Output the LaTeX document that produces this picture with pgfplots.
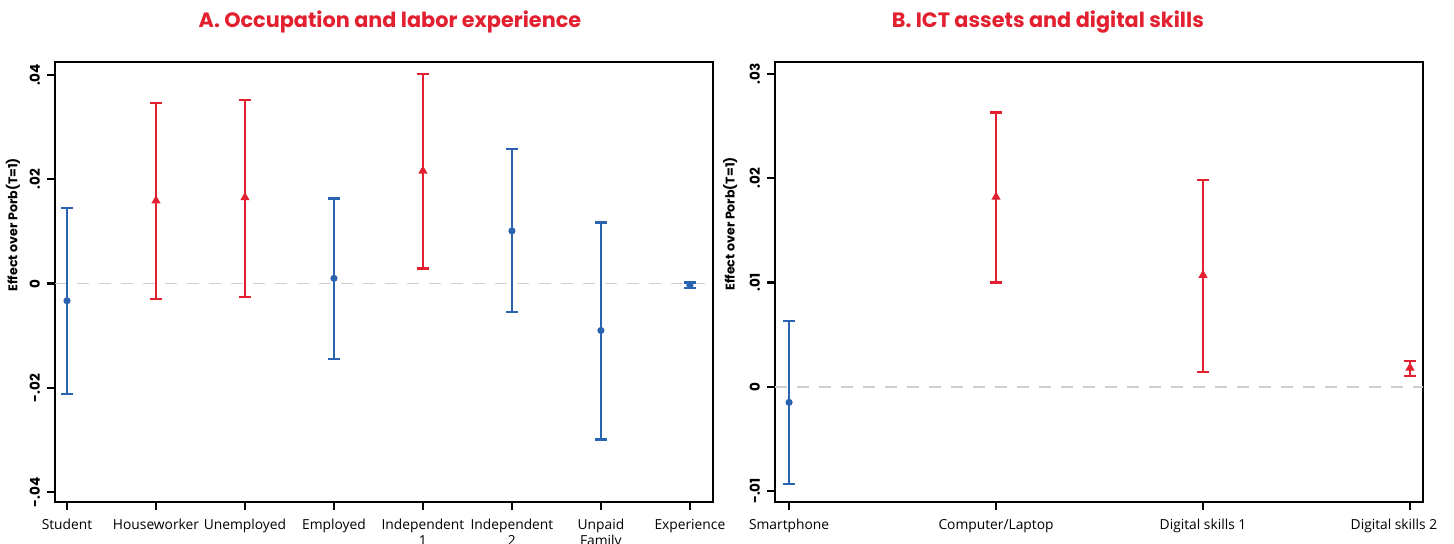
\documentclass[border=0pt]{standalone}
\usepackage{pgfplots}
\pgfplotsset{compat=1.18}
\usepackage{pgfplotstable}
\usepackage{fontspec}
\setmainfont{Open Sans}
\newfontfamily\pop{Poppins}
\definecolor{myred}{HTML}{E2202F}
\definecolor{myblue}{HTML}{2A64B0}
\definecolor{zgray}{HTML}{D0D0D0}

% x y eplus eminus
\pgfplotstableread{
x y ep em
0 -0.0033 0.0178 0.0179
3 0.0010 0.0153 0.0155
5 0.0101 0.0157 0.0156
6 -0.0090 0.0207 0.0209
7 -0.0003 0.0005 0.0005
}\Ablue
\pgfplotstableread{
x y ep em
1 0.0159 0.0187 0.0188
2 0.0165 0.0187 0.0190
4 0.0216 0.0186 0.0187
}\Ared
\pgfplotstableread{
x y ep em
0 -0.0015 0.0078 0.0078
}\Bblue
\pgfplotstableread{
x y ep em
1 0.0182 0.0081 0.0082
2 0.0107 0.0091 0.0093
3 0.0018 0.0007 0.0008
}\Bred

\pgfplotsset{
  panel/.style={
    scale only axis,
    height=220pt,
    axis line style={line width=1.2pt},
    tick style={line width=1.1pt, black},
    major tick length=4pt,
    tick align=outside,
    xtick pos=lower, ytick pos=left,
    scaled y ticks=false,
    xticklabel style={font=\fontsize{6.9}{7.8}\selectfont, align=center, yshift=-1pt},
    yticklabel style={rotate=90, anchor=south, font=\pop\fontsize{6.8}{8}\selectfont\bfseries},
    ylabel={Effect over Porb(T=1)},
    ylabel style={font=\pop\fontsize{6.3}{8}\selectfont\bfseries, anchor=center},
    title style={font=\pop\fontsize{10.4}{12}\selectfont\bfseries, text=myred, anchor=base, inner sep=0pt},
    clip=false,
  },
  bl/.style={only marks, myblue, line width=1.1pt, mark=*, mark size=1.2pt,
    error bars/y dir=both, error bars/y explicit,
    error bars/error bar style={line width=1.1pt, myblue},
    error bars/error mark options={line width=1.1pt, myblue, mark size=3pt, rotate=90}},
  rd/.style={only marks, myred, line width=1.1pt, mark=triangle*, mark size=1.6pt,
    error bars/y dir=both, error bars/y explicit,
    error bars/error bar style={line width=1.1pt, myred},
    error bars/error mark options={line width=1.1pt, myred, mark size=3pt, rotate=90}},
}

\begin{document}
\begin{tikzpicture}
\useasboundingbox (0,0) rectangle (727pt,271.5pt);
\begin{axis}[panel,
  at={(27.5pt,20.5pt)}, anchor=south west,
  width=329pt,
  xmin=-0.135, xmax=7.26,
  ymin=-0.0419, ymax=0.0425,
  xtick={0,1,2,3,4,5,6,7},
  xticklabels={Student,Houseworker,Unemployed,Employed,Independent\\1,Independent\\2,Unpaid\\Family,Experience},
  ytick={-0.04,-0.02,0,0.02,0.04},
  yticklabels={-.04,-.02,0,.02,.04},
  ylabel style={at={(axis description cs:-0.064,0.63)}},
  title={A. Occupation and labor experience},
  title style={at={(axis description cs:0.509,1)}, yshift=11pt},
]
\addplot[zgray, line width=0.9pt, dash pattern=on 6pt off 5pt, forget plot] coordinates {(-0.135,0) (7.26,0)};
\addplot[bl] table[x=x, y=y, y error plus=ep, y error minus=em] {\Ablue};
\addplot[rd] table[x=x, y=y, y error plus=ep, y error minus=em] {\Ared};
\end{axis}
\begin{axis}[panel,
  at={(387.5pt,20.5pt)}, anchor=south west,
  width=324pt,
  xmin=-0.068, xmax=3.063,
  ymin=-0.01106, ymax=0.03115,
  xtick={0,1,2},
  xticklabels={Smartphone,Computer/Laptop,Digital skills 1},
  extra x ticks={3},
  extra x tick labels={Digital skills 2},
  extra x tick style={xticklabel style={xshift=-8pt}},
  ytick={-0.01,0,0.01,0.02,0.03},
  yticklabels={-.01,0,.01,.02,.03},
  ylabel style={at={(axis description cs:-0.069,0.632)}},
  title={B. ICT assets and digital skills},
  title style={at={(axis description cs:0.421,1)}, yshift=11pt},
]
\addplot[zgray, line width=0.9pt, dash pattern=on 6pt off 5pt, forget plot] coordinates {(-0.068,0) (3.063,0)};
\addplot[bl] table[x=x, y=y, y error plus=ep, y error minus=em] {\Bblue};
\addplot[rd] table[x=x, y=y, y error plus=ep, y error minus=em] {\Bred};
\end{axis}
\end{tikzpicture}
\end{document}
